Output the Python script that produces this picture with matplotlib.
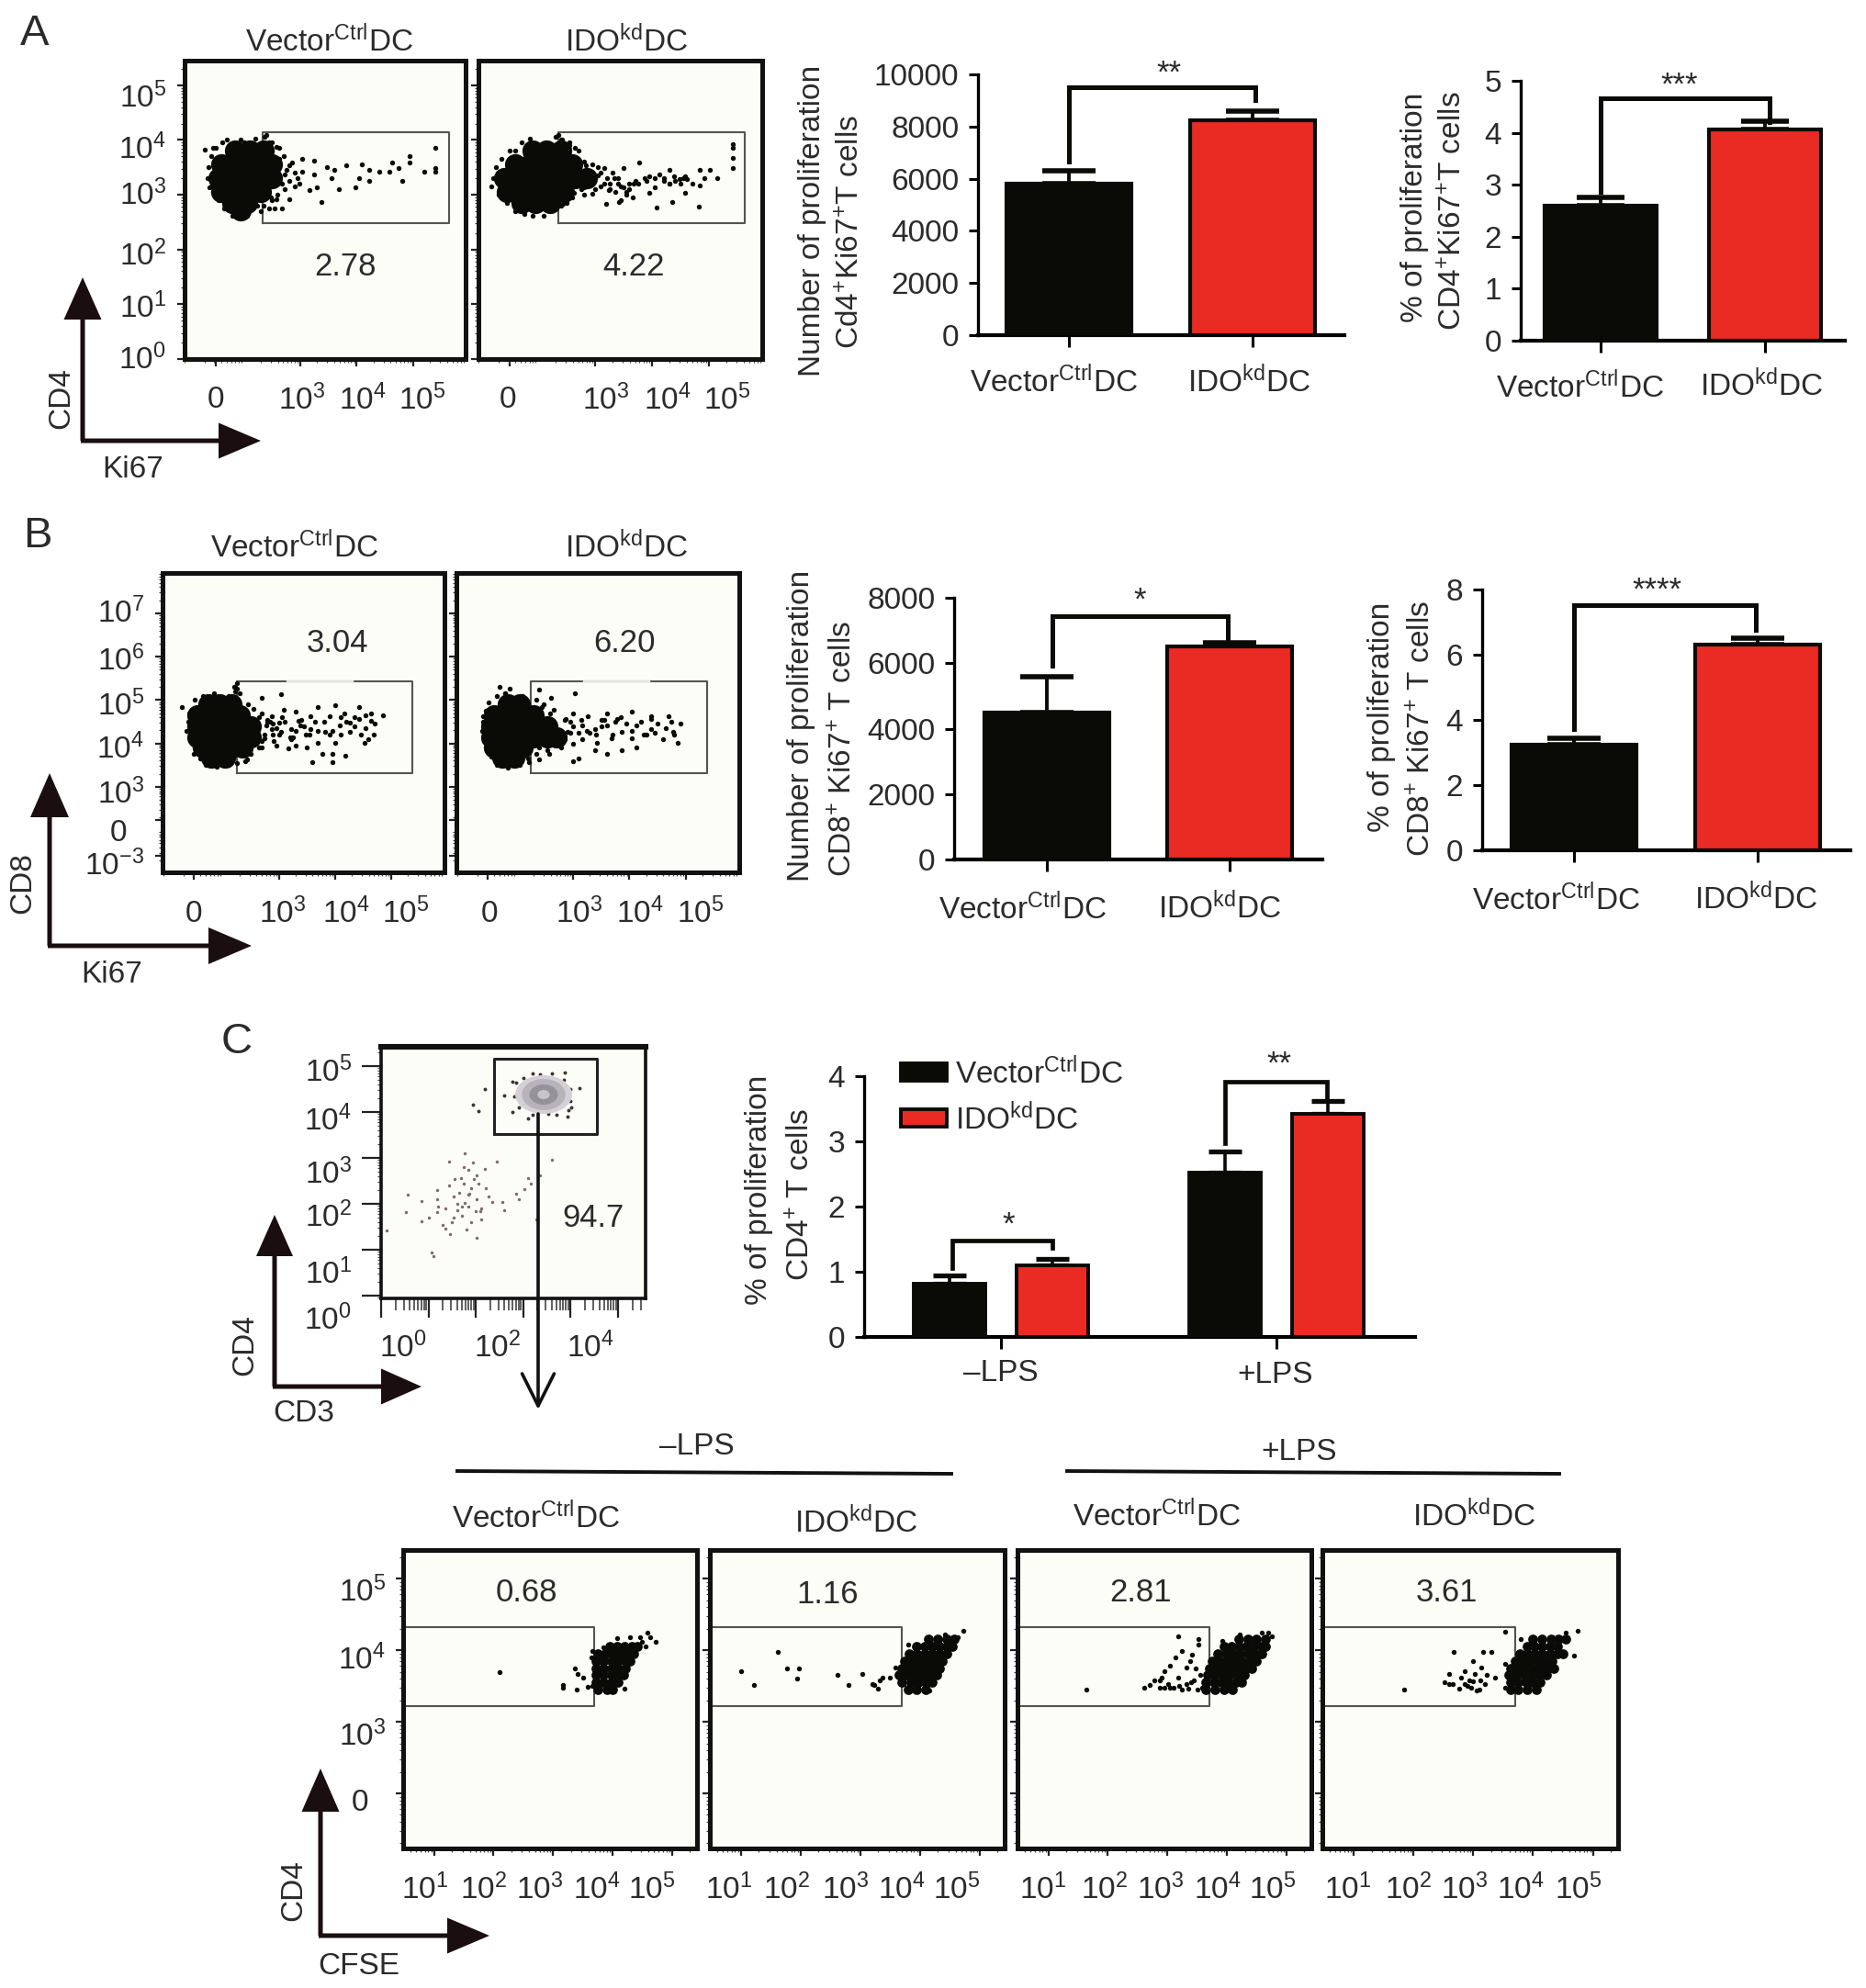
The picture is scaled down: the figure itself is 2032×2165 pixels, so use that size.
import numpy as np
import matplotlib
matplotlib.use('Agg')
import matplotlib.pyplot as plt
from matplotlib.patches import FancyArrow, Ellipse

plt.rcParams['font.family'] = ['Liberation Sans', 'DejaVu Sans']
plt.rcParams['mathtext.fontset'] = 'custom'
plt.rcParams['mathtext.rm'] = 'Liberation Sans'
plt.rcParams['mathtext.default'] = 'regular'
plt.rcParams['axes.unicode_minus'] = False

W, H = 2032, 2165
BLACK = '#0a0a06'
RED = '#e92b24'
TXT = '#2b2b2b'
PANEL = '#fdfdf7'
FS = 24

VEC = 'Vector$^{Ctrl}$DC'
IDO = 'IDO$^{kd}$DC'

# -------------------------------------------------
# bar values
# -------------------------------------------------
a_num_vals = [5800, 8250]
a_num_err = [500, 350]
a_pct_vals = [2.6, 4.07]
a_pct_err = [0.16, 0.15]
b_num_vals = [4500, 6500]
b_num_err = [1100, 120]
b_pct_vals = [3.25, 6.3]
b_pct_err = [0.2, 0.22]
c_ctrl_vals = [0.82, 2.52]
c_ctrl_err = [0.13, 0.33]
c_kd_vals = [1.1, 3.42]
c_kd_err = [0.1, 0.2]

# -------------------------------------------------
# flow plots: log10 channel values (u, v)
# core = the solid part of a cloud, dots = single events, rim = ragged cloud edge
# -------------------------------------------------
a1_core_u = [1.85, 2.1, 2.35, 1.6, 1.85, 2.1, 2.35, 2.5, 1.55, 1.8, 2.05, 2.3, 2.5, 1.6, 1.85, 2.1, 2.3, 1.8, 2.05, 1.95]
a1_core_v = [3.8, 3.8, 3.8, 3.55, 3.55, 3.55, 3.55, 3.55, 3.3, 3.3, 3.3, 3.3, 3.3, 3.05, 3.05, 3.05, 3.05, 2.85, 2.85, 2.72]
a1_dots_u = [5.40, 5.40, 5.40, 5.19, 4.93, 4.93, 4.75, 4.62, 4.58, 4.80, 4.40, 4.22, 4.22, 4.09, 4.04, 3.82,
             3.60, 3.56, 3.47, 3.25, 3.25, 3.03, 3.03, 2.98, 3.29, 3.16, 3.38, 3.69, 3.98, 2.81, 2.72, 2.67,
             2.81, 2.58, 2.67, 2.54, 2.41, 1.30, 1.39, 1.61, 2.36, 2.58, 1.88, 2.23, 2.63, 2.85, 2.45, 2.5,
             1.45, 1.75, 2.0, 2.48]
a1_dots_v = [3.85, 3.48, 3.42, 3.42, 3.71, 3.59, 3.48, 3.59, 3.42, 3.25, 3.42, 3.45, 3.25, 3.56, 3.31, 3.54,
             3.45, 3.31, 3.51, 3.62, 3.37, 3.65, 3.42, 3.20, 3.14, 3.08, 2.86, 3.11, 3.13, 3.54, 3.37, 3.20,
             2.92, 2.92, 2.75, 2.75, 3.08, 3.82, 3.14, 3.96, 4.05, 3.88, 2.69, 2.80, 3.65, 3.59, 3.95, 3.8,
             3.85, 3.9, 3.95, 2.95]
a1_rim_u = [1.38, 1.36, 1.42, 1.5, 1.7, 1.95, 2.2, 2.4, 2.5, 2.62, 2.7, 2.75, 2.8, 2.72, 2.6, 2.5, 2.35, 2.3,
            1.8, 1.95, 2.05, 1.65, 1.55, 1.45, 1.42, 2.9, 2.95, 2.9, 2.45]
a1_rim_v = [3.5, 3.3, 3.7, 3.85, 4.0, 4.0, 4.02, 4.1, 3.95, 3.85, 3.7, 3.45, 3.25, 3.1, 3.0, 2.9, 2.8, 2.7,
            2.62, 2.6, 2.62, 2.75, 2.9, 3.05, 3.15, 3.4, 3.3, 3.15, 2.75]

a2_core_u = [1.9, 2.15, 2.4, 1.6, 1.85, 2.1, 2.35, 2.6, 1.4, 1.65, 1.9, 2.15, 2.4, 2.65, 2.85, 1.45, 1.7, 1.95, 2.2, 2.45, 1.7, 1.95, 2.2]
a2_core_v = [3.8, 3.8, 3.8, 3.55, 3.55, 3.55, 3.55, 3.55, 3.3, 3.3, 3.3, 3.3, 3.3, 3.3, 3.3, 3.05, 3.05, 3.05, 3.05, 3.05, 2.85, 2.85, 2.85]
a2_dots_u = [5.41, 5.41, 5.41, 5.41, 5.14, 5.01, 4.92, 4.83, 4.83, 4.57, 4.57, 4.35, 4.08, 4.81, 4.30, 4.12,
             3.95, 3.77, 3.86, 3.68, 3.50, 3.50, 3.42, 3.19, 3.33, 3.15, 3.15, 2.97, 2.84, 2.80, 2.62, 2.44,
             2.35, 2.71, 4.04, 4.30, 3.95, 3.55, 3.24, 4.39, 4.48, 4.21, 4.61, 2.9, 3.05, 3.1, 3.25, 3.4,
             2.75, 2.85, 2.95, 3.6, 3.7, 2.3, 2.4, 2.55, 2.7, 1.85, 1.6]
a2_dots_v = [3.93, 3.85, 3.68, 3.48, 3.31, 3.45, 3.31, 3.45, 3.17, 3.34, 3.03, 2.86, 2.77, 2.79, 3.45, 3.37,
             3.34, 3.59, 3.31, 3.20, 3.48, 3.14, 2.86, 2.83, 3.31, 3.20, 3.48, 3.37, 3.54, 3.14, 3.03, 2.83,
             2.97, 3.31, 3.14, 3.20, 3.03, 3.00, 3.08, 3.34, 3.28, 3.31, 3.28, 3.25, 3.35, 3.15, 3.1, 3.2,
             3.1, 3.45, 3.02, 3.1, 3.25, 4.05, 4.0, 3.9, 3.8, 3.9, 3.8]
a2_rim_u = [1.2, 1.18, 1.25, 1.35, 1.5, 1.7, 1.85, 2.35, 2.42, 2.55, 2.65, 2.8, 2.95, 3.05, 3.1, 3.2, 3.3, 3.4,
            3.45, 3.35, 3.25, 3.0, 2.8, 2.6, 2.5, 2.4, 1.6, 1.75, 1.9, 2.1, 1.45, 1.3, 3.6, 3.75, 3.9, 4.05,
            4.2, 4.3, 4.4, 4.5, 4.55, 4.7, 3.55, 3.65, 3.45]
a2_rim_v = [3.3, 3.15, 3.5, 3.65, 3.8, 3.95, 4.02, 4.1, 4.0, 3.95, 3.85, 3.6, 3.55, 3.5, 3.4, 3.3, 3.4, 3.3,
            3.15, 3.05, 3.2, 3.1, 3.0, 2.95, 2.85, 2.8, 2.7, 2.65, 2.62, 2.62, 2.85, 3.0, 3.2, 3.2, 3.25, 3.3,
            3.25, 3.2, 3.25, 3.2, 3.3, 3.2, 3.05, 2.95, 2.9]

b1_core_u = [1.75, 1.95, 2.15, 1.55, 1.8, 2.05, 2.3, 1.55, 1.8, 2.05, 2.3, 2.5, 1.55, 1.8, 2.05, 2.3, 2.5, 1.65, 1.9, 2.15, 2.35, 1.8, 2.05]
b1_core_v = [4.9, 4.9, 4.9, 4.65, 4.65, 4.65, 4.65, 4.4, 4.4, 4.4, 4.4, 4.4, 4.15, 4.15, 4.15, 4.15, 4.15, 3.9, 3.9, 3.9, 3.9, 3.68, 3.68]
b1_dots_u = [1.27, 2.26, 2.22, 3.04, 2.70, 2.70, 2.87, 3.09, 3.30, 3.69, 4.00, 4.43, 4.65, 4.86, 4.65, 4.43,
             4.17, 4.08, 4.26, 4.47, 4.69, 4.52, 4.00, 3.69, 3.56, 3.39, 3.22, 3.04, 2.87, 2.74, 2.91, 3.17,
             2.70, 3.78, 3.95, 4.19, 3.59, 3.95, 2.44, 1.48, 3.22, 3.48, 3.82, 4.26, 3.91, 3.56, 3.35, 3.00,
             2.78, 2.61, 2.57, 2.48, 3.2, 3.4, 3.7, 3.95, 4.35, 4.55, 4.7, 3.05, 2.9, 2.8, 2.15, 1.95]
b1_dots_v = [4.84, 5.27, 5.20, 5.13, 5.06, 4.70, 4.63, 4.77, 4.74, 4.84, 4.88, 4.84, 4.70, 4.64, 4.52, 4.56,
             4.70, 4.41, 4.27, 4.20, 4.20, 4.02, 4.02, 4.02, 4.34, 4.41, 4.34, 4.27, 4.34, 4.13, 4.06, 3.88,
             3.91, 3.76, 3.77, 3.71, 3.56, 3.56, 3.63, 3.76, 4.09, 4.20, 4.27, 4.49, 4.63, 4.63, 4.52, 4.49,
             4.41, 4.27, 3.99, 3.84, 4.15, 4.55, 4.3, 4.3, 4.4, 4.35, 4.45, 4.6, 4.2, 4.55, 5.05, 5.08]
b1_rim_u = [1.4, 1.38, 1.36, 1.42, 1.5, 1.5, 1.65, 1.85, 2.1, 2.2, 2.25, 2.3, 2.45, 2.55, 2.65, 2.8, 2.9, 2.75,
            2.7, 2.65, 2.5, 2.4, 1.6, 1.7, 1.9, 2.1, 2.25, 3.0, 3.1, 3.25, 3.3, 3.45, 3.55, 3.65, 3.8, 3.9,
            4.1, 4.2, 4.35, 4.55, 4.6, 4.1, 3.5, 3.3, 2.95, 2.85, 2.95]
b1_rim_v = [4.7, 4.5, 4.3, 4.1, 3.9, 5.0, 5.1, 5.15, 5.1, 5.3, 5.4, 5.15, 4.9, 4.8, 4.6, 4.5, 4.45, 4.2,
            4.05, 3.9, 3.75, 3.6, 3.65, 3.5, 3.47, 3.5, 3.55, 4.2, 4.5, 4.15, 4.3, 4.4, 4.2, 4.5, 4.5, 4.2,
            4.2, 4.5, 4.6, 4.65, 4.1, 4.6, 3.9, 3.95, 3.95, 4.5, 4.35]

b2_core_u = [1.85, 2.05, 1.6, 1.85, 2.1, 2.3, 1.55, 1.8, 2.05, 2.3, 2.55, 1.55, 1.8, 2.05, 2.3, 2.55, 2.7, 1.6, 1.85, 2.1, 1.75, 1.95]
b2_core_v = [4.9, 4.9, 4.65, 4.65, 4.65, 4.65, 4.4, 4.4, 4.4, 4.4, 4.4, 4.15, 4.15, 4.15, 4.15, 4.15, 4.15, 3.9, 3.9, 3.9, 3.68, 3.68]
b2_dots_u = [1.40, 1.87, 2.39, 2.61, 3.04, 2.48, 2.65, 3.00, 3.26, 3.61, 4.04, 4.39, 4.69, 4.91, 4.78, 4.60,
             4.86, 4.39, 4.13, 3.87, 3.61, 3.39, 3.17, 3.00, 2.78, 2.57, 2.39, 3.00, 3.09, 3.39, 3.61, 3.87,
             4.13, 4.04, 3.69, 3.43, 3.17, 2.91, 2.87, 4.39, 3.78, 2.22, 1.79, 2.8, 2.95, 3.3, 3.5, 3.75, 4.25]
b2_dots_v = [4.63, 5.27, 5.24, 5.06, 5.16, 4.91, 4.77, 4.70, 4.63, 4.70, 4.74, 4.63, 4.63, 4.45, 4.27, 4.09,
             4.02, 4.34, 4.41, 4.27, 4.41, 4.34, 4.09, 3.99, 3.91, 3.77, 3.63, 3.59, 3.66, 3.84, 3.77, 3.84,
             3.91, 4.13, 4.13, 4.02, 4.41, 4.27, 4.56, 4.56, 4.56, 3.56, 5.16, 4.15, 4.5, 4.25, 4.55, 4.5, 4.2]
b2_rim_u = [1.45, 1.4, 1.38, 1.42, 1.5, 1.55, 1.65, 1.85, 2.05, 2.2, 2.35, 2.4, 2.55, 2.7, 2.85, 2.95, 3.0, 2.85,
            2.6, 2.45, 2.35, 2.1, 1.8, 1.7, 1.65, 1.5, 3.1, 3.15, 3.25, 3.4, 3.5, 3.55, 3.7, 3.85, 3.95, 4.05,
            4.2, 4.3, 4.45, 4.5, 4.65, 4.8, 4.75]
b2_rim_v = [4.75, 4.5, 4.3, 4.05, 3.85, 3.7, 3.5, 3.45, 3.5, 3.65, 3.75, 3.9, 3.85, 4.0, 4.1, 4.25, 4.4, 4.55,
            4.7, 4.85, 5.0, 5.1, 5.15, 5.3, 5.1, 4.95, 4.25, 4.55, 4.3, 4.2, 4.4, 4.55, 4.2, 4.6, 4.45, 4.3,
            4.5, 4.2, 4.25, 4.45, 4.35, 4.2, 4.5]

ca_core_u = [3.75, 3.9, 4.0, 3.72, 3.85, 3.98, 4.1, 3.72, 3.85, 3.98, 4.1, 4.18, 3.72, 3.85, 3.98, 4.1, 4.22,
             3.72, 3.85, 3.98, 4.1, 4.22, 4.3, 3.75, 3.88, 4.0, 4.12, 4.25, 4.35, 3.95, 4.08, 4.2, 4.33, 4.42]
ca_core_v = [3.45, 3.45, 3.45, 3.55, 3.55, 3.55, 3.55, 3.65, 3.65, 3.65, 3.65, 3.65, 3.75, 3.75, 3.75, 3.75, 3.75,
             3.85, 3.85, 3.85, 3.85, 3.85, 3.85, 3.95, 3.95, 3.95, 3.95, 3.95, 3.95, 4.05, 4.05, 4.05, 4.05, 4.05]
ca_dots_u = [2.10, 3.37, 3.42, 3.50, 3.16, 3.16, 3.40, 3.59, 3.66, 4.20, 3.94, 4.59, 4.72, 4.46, 4.29, 4.07,
             4.63, 3.85, 4.37, 3.65, 3.66, 4.5, 4.55]
ca_dots_v = [3.69, 3.74, 3.67, 3.62, 3.48, 3.51, 3.45, 3.49, 3.99, 3.46, 3.45, 4.24, 4.12, 4.18, 4.18, 4.17,
             4.18, 4.04, 4.04, 3.9, 3.5, 4.12, 4.05]

cb_core_u = [3.8, 3.95, 4.1, 3.7, 3.85, 3.98, 4.1, 4.2, 3.65, 3.78, 3.9, 4.02, 4.15, 4.28, 3.7, 3.82, 3.95, 4.08, 4.2, 4.32,
             3.75, 3.88, 4.0, 4.12, 4.25, 4.38, 3.82, 3.95, 4.08, 4.2, 4.32, 4.45, 3.95, 4.08, 4.2, 4.32, 4.45, 4.55,
             4.15, 4.3, 4.45, 4.58]
cb_core_v = [3.45, 3.45, 3.45, 3.55, 3.55, 3.55, 3.55, 3.55, 3.65, 3.65, 3.65, 3.65, 3.65, 3.65, 3.75, 3.75, 3.75, 3.75, 3.75, 3.75,
             3.85, 3.85, 3.85, 3.85, 3.85, 3.85, 3.95, 3.95, 3.95, 3.95, 3.95, 3.95, 4.05, 4.05, 4.05, 4.05, 4.05, 4.05,
             4.15, 4.15, 4.15, 4.15]
cb_dots_u = [1.62, 1.77, 1.97, 1.94, 1.00, 1.22, 2.62, 2.81, 3.03, 3.20, 3.29, 3.37, 3.50, 3.59, 3.24, 3.33,
             4.72, 4.63, 4.42, 4.16, 3.81]
cb_dots_v = [3.97, 3.75, 3.74, 3.61, 3.71, 3.51, 3.66, 3.51, 3.67, 3.53, 3.46, 3.62, 3.62, 3.76, 3.51, 3.58,
             4.27, 4.18, 4.22, 3.44, 4.08]

cc_core_u = [3.65, 3.8, 3.95, 4.1, 3.65, 3.78, 3.9, 4.02, 4.15, 4.25, 3.68, 3.8, 3.92, 4.05, 4.18, 4.3,
             3.7, 3.82, 3.95, 4.08, 4.2, 4.32, 4.42, 3.75, 3.88, 4.0, 4.12, 4.25, 4.38, 4.5,
             3.85, 3.98, 4.1, 4.22, 4.35, 4.48, 4.58, 3.95, 4.08, 4.2, 4.32, 4.45, 4.58, 4.65, 4.2, 4.35, 4.5, 4.65]
cc_core_v = [3.45, 3.45, 3.45, 3.45, 3.55, 3.55, 3.55, 3.55, 3.55, 3.55, 3.65, 3.65, 3.65, 3.65, 3.65, 3.65,
             3.75, 3.75, 3.75, 3.75, 3.75, 3.75, 3.75, 3.85, 3.85, 3.85, 3.85, 3.85, 3.85, 3.85,
             3.95, 3.95, 3.95, 3.95, 3.95, 3.95, 3.95, 4.05, 4.05, 4.05, 4.05, 4.05, 4.05, 4.05, 4.15, 4.15, 4.15, 4.15]
cc_dots_u = [1.64, 3.18, 3.52, 3.52, 3.25, 3.13, 3.42, 3.38, 3.32, 3.05, 2.95, 2.91, 2.78, 2.61, 2.71, 2.88,
             3.01, 3.11, 3.32, 3.35, 3.48, 3.55, 3.45, 2.88, 3.18, 4.69, 4.76, 4.59, 4.22, 3.92, 3.58,
             2.95, 3.05, 3.2, 3.25, 3.4, 3.5]
cc_dots_v = [3.45, 4.20, 4.15, 4.08, 3.99, 3.90, 3.94, 3.85, 3.76, 3.78, 3.71, 3.62, 3.58, 3.48, 3.51, 3.48,
             3.53, 3.48, 3.53, 3.46, 3.74, 3.65, 3.58, 3.58, 3.62, 4.24, 4.20, 4.24, 4.22, 4.13, 3.48,
             3.48, 3.47, 3.5, 3.45, 3.55, 3.45]

cd_core_u = [3.62, 3.75, 3.9, 4.05, 3.62, 3.75, 3.88, 4.0, 4.12, 3.6, 3.72, 3.85, 3.98, 4.1, 4.22,
             3.62, 3.75, 3.88, 4.0, 4.12, 4.25, 4.35, 3.7, 3.82, 3.95, 4.08, 4.2, 4.32,
             3.78, 3.9, 4.02, 4.15, 4.28, 4.4, 4.5, 3.9, 4.02, 4.15, 4.28, 4.4, 4.0, 4.15, 4.3, 4.42, 4.55]
cd_core_v = [3.45, 3.45, 3.45, 3.45, 3.55, 3.55, 3.55, 3.55, 3.55, 3.65, 3.65, 3.65, 3.65, 3.65, 3.65,
             3.75, 3.75, 3.75, 3.75, 3.75, 3.75, 3.75, 3.85, 3.85, 3.85, 3.85, 3.85, 3.85,
             3.95, 3.95, 3.95, 3.95, 3.95, 3.95, 3.95, 4.05, 4.05, 4.05, 4.05, 4.05, 4.15, 4.15, 4.15, 4.15, 4.15]
cd_dots_u = [1.85, 3.53, 2.68, 3.16, 3.30, 3.00, 3.13, 3.03, 3.23, 2.86, 2.59, 2.52, 2.66, 2.76, 2.93, 3.06,
             3.19, 3.36, 3.53, 3.53, 4.74, 4.69, 3.80, 4.54, 2.86, 2.96, 2.59, 2.8, 2.9, 3.0, 3.1, 3.12]
cd_dots_v = [3.45, 4.26, 3.97, 3.98, 3.97, 3.85, 3.76, 3.67, 3.65, 3.71, 3.67, 3.55, 3.53, 3.46, 3.58, 3.44,
             3.53, 3.62, 3.81, 3.48, 4.27, 3.93, 4.15, 4.24, 3.53, 3.48, 3.53, 3.62, 3.5, 3.57, 3.45, 3.58]

# CD3/CD4 gating plot
c0_low_u = [1.44, 1.77, 1.94, 2.44, 2.19, 2.02, 1.69, 1.44, 1.19, 0.56, 0.86, 1.19, 1.53, 1.86, 2.02, 1.77,
            2.11, 1.61, 1.19, 0.53, 0.86, 1.53, 2.11, 2.60, 2.85, 3.10, 3.35, 3.60, 2.27, 2.02, 1.11, 0.12,
            1.36, 3.02, 3.27, 1.6, 1.7, 1.85, 2.0, 2.1, 1.65, 1.75, 1.85, 1.95, 1.35, 1.5, 1.3, 1.0, 1.45,
            1.8, 1.9, 2.2, 2.35, 2.55, 2.9, 3.15, 1.75, 1.2, 1.55, 1.9, 2.05, 1.85, 1.7, 1.06]
c0_low_v = [2.93, 3.10, 2.90, 2.93, 2.77, 2.63, 2.57, 2.40, 2.30, 2.20, 2.07, 2.10, 2.17, 2.23, 2.10, 2.03,
            1.90, 1.87, 1.83, 1.83, 1.63, 1.70, 1.67, 1.87, 2.23, 2.57, 2.63, 2.97, 2.17, 1.27, 0.87, 1.43,
            1.47, 2.33, 1.67, 2.0, 1.95, 1.95, 1.85, 1.85, 2.25, 2.45, 2.75, 2.55, 1.9, 1.6, 1.55, 1.7, 1.35,
            1.45, 1.6, 2.35, 2.05, 2.05, 2.1, 2.45, 2.8, 1.95, 2.55, 2.35, 2.45, 2.2, 1.75, 0.95]
c0_high_u = [2.19, 1.94, 2.06, 2.60, 2.77, 3.10, 3.93, 4.18, 3.88, 3.35, 2.77, 4.01, 3.52, 3.10,
             2.85, 3.0, 3.2, 3.6, 3.85, 4.0, 4.0, 3.95, 3.7, 3.2, 2.9, 2.8]
c0_high_v = [4.50, 4.17, 4.03, 4.37, 4.00, 3.87, 3.90, 4.53, 4.87, 4.83, 4.67, 4.10, 3.97, 4.60,
             4.65, 4.75, 4.85, 4.85, 4.7, 4.5, 4.25, 4.05, 3.95, 3.95, 4.1, 4.35]
c0_peak_u = 3.43
c0_peak_v = 4.38


def px_axes(l, t, r, b):
    return fig.add_axes([l / W, 1 - b / H, (r - l) / W, (b - t) / H])


def decade_minor(decades):
    return [d + np.log10(k) for d in decades for k in range(2, 10)]


def flow(box, xlim, ylim, xt, yt, xlab_pos, xlabs, ylab_pos, ylabs, gate=None, core=None, dots=None,
         xpad=45, ypad=20, major=6, core_size=280, dot_size=15):
    ax = px_axes(*box)
    ax.set_facecolor(PANEL)
    ax.set_xlim(*xlim)
    ax.set_ylim(*ylim)
    for s in ax.spines.values():
        s.set_linewidth(3.6)
        s.set_color('#111111')
    ax.set_xticks(xt)
    ax.set_yticks(yt)
    ax.set_xticks([v for v in decade_minor(range(-1, 7)) if xlim[0] < v < xlim[1]], minor=True)
    ax.set_yticks([v for v in decade_minor(range(-1, 9)) if ylim[0] < v < ylim[1]], minor=True)
    ax.tick_params(which='major', length=major, width=1.6, color='#222222', labelbottom=False, labelleft=False)
    ax.tick_params(which='minor', length=3, width=0.9, color='#444444')
    if gate is not None:
        gx0, gx1, gy0, gy1 = gate
        ax.plot([gx0, gx1, gx1, gx0, gx0], [gy0, gy0, gy1, gy1, gy0], color='#555550', lw=1.5, zorder=2)
    if core is not None:
        ax.scatter(core[0], core[1], s=core_size, color=BLACK, linewidths=0, zorder=3)
    if dots is not None:
        ax.scatter(dots[0], dots[1], s=dot_size, color=BLACK, linewidths=0, marker='o', zorder=3)
    for p, lab in zip(xlab_pos, xlabs):
        ax.annotate(lab, xy=(p, 0), xycoords=ax.get_xaxis_transform(), xytext=(0, -xpad),
                    textcoords='offset pixels', ha='center', va='center', fontsize=FS, color=TXT)
    for p, lab in zip(ylab_pos, ylabs):
        extra = 19 if lab == '0' else 0
        ax.annotate(lab, xy=(0, p), xycoords=ax.get_yaxis_transform(), xytext=(-ypad - extra, -3),
                    textcoords='offset pixels', ha='right', va='center', fontsize=FS, color=TXT)
    return ax


def bars(box, xlim, ylim, yt, vals, errs, bracket, cap=21):
    ax = px_axes(*box)
    ax.set_xlim(*xlim)
    ax.set_ylim(*ylim)
    ax.patch.set_alpha(0)
    ax.bar([0, 1], vals, width=0.68, color=[BLACK, RED], edgecolor=BLACK, linewidth=3.0, zorder=3)
    ax.errorbar([0, 1], vals, yerr=[[0, 0], errs], fmt='none', ecolor=BLACK, elinewidth=2.8,
                capsize=cap, capthick=4.0, zorder=2)
    ax.plot(bracket[0], bracket[1], color=BLACK, lw=3.6, clip_on=False, solid_joinstyle='miter')
    finish_bar_axes(ax, yt)
    ax.set_xticks([0, 1])
    return ax


def finish_bar_axes(ax, yt):
    for side in ['top', 'right']:
        ax.spines[side].set_visible(False)
    ax.spines['left'].set_linewidth(2.4)
    ax.spines['bottom'].set_linewidth(3.0)
    ax.set_yticks(yt)
    ax.tick_params(axis='y', length=7, width=2.2, pad=8, labelsize=FS, labelcolor=TXT)
    ax.tick_params(axis='x', length=9, width=2.2, labelbottom=False)


fig = plt.figure(figsize=(W / 100, H / 100), dpi=100)

# overlay in picture pixels for labels and the axis arrows
ov = fig.add_axes([0, 0, 1, 1])
ov.set_xlim(0, W)
ov.set_ylim(H, 0)
ov.axis('off')
ov.set_zorder(10)


def label(x, y, s, size=FS, rot=0, **kw):
    if s in (VEC, IDO):
        y += 4
    ov.text(x, y, s, fontsize=size, rotation=rot, ha='center', va='center', color=TXT, **kw)


def arrows(x0, y0, ytip, xtip, vhead, hhead):
    ov.add_patch(FancyArrow(x0, y0, 0, ytip - y0, width=5, head_width=vhead[0], head_length=vhead[1],
                            length_includes_head=True, color='#1a0e10', lw=0))
    ov.add_patch(FancyArrow(x0 - 2, y0, xtip - x0 + 2, 0, width=5, head_width=hhead[0], head_length=hhead[1],
                            length_includes_head=True, color='#1a0e10', lw=0))


# -------------------------------------------------
# A
# -------------------------------------------------
a_xlim = (0.95, 5.93)
a_ylim = (0.0, 5.45)
a_ylab_pos = [4.81, 3.88, 3.03, 1.93, 0.97, 0.03]
a_ylabs = ['$10^{5}$', '$10^{4}$', '$10^{3}$', '$10^{2}$', '$10^{1}$', '$10^{0}$']
a_xlabs = ['0', '$10^{3}$', '$10^{4}$', '$10^{5}$']
flow((201, 66, 507, 391), a_xlim, a_ylim, [1.5, 3, 4, 5], [0, 1, 2, 3, 4, 5],
     [1.5, 3.03, 4.1, 5.16], a_xlabs, a_ylab_pos, a_ylabs, gate=(2.33, 5.63, 2.48, 4.14),
     core=(a1_core_u, a1_core_v), dots=(a1_dots_u + a1_rim_u, a1_dots_v + a1_rim_v))
flow((521, 66, 830, 391), a_xlim, a_ylim, [1.5, 3, 4, 5], [0, 1, 2, 3, 4, 5],
     [1.47, 3.19, 4.26, 5.32], a_xlabs, [], [], gate=(2.35, 5.62, 2.48, 4.14),
     core=(a2_core_u, a2_core_v), dots=(a2_dots_u + a2_rim_u, a2_dots_v + a2_rim_v))

bars((1065, 81, 1464, 365), (-0.495, 1.5), (0, 10000), [0, 2000, 4000, 6000, 8000, 10000],
     a_num_vals, a_num_err, ([0, 0, 1.015, 1.015], [6650, 9500, 9500, 9000]))
bars((1656, 88, 2009, 371), (-0.486, 1.486), (0, 5), [0, 1, 2, 3, 4, 5],
     a_pct_vals, a_pct_err, ([0, 0, 1.03, 1.03], [2.87, 4.67, 4.67, 4.2]), cap=19)

label(38, 37, 'A', size=34)
label(358, 41, VEC)
label(682, 41, IDO)
label(376, 291, '2.78', size=25)
label(690, 291, '4.22', size=25)
label(1273, 80, '**', size=25)
label(1829, 93, '***', size=25)
arrows(90, 480, 302, 284, (41, 46), (39, 46))
label(67, 434, 'CD4', rot=90)
label(145, 512, 'Ki67')
label(884, 240, 'Number of proliferation', rot=90)
label(927, 253, 'Cd4$^{+}$Ki67$^{+}$T cells', rot=90)
label(1147, 412, VEC)
label(1360, 412, IDO)
label(1540, 226, '% of proliferation', rot=90)
label(1583, 230, 'CD4$^{+}$Ki67$^{+}$T cells', rot=90)
label(1720, 418, VEC)
label(1918, 416, IDO)

# -------------------------------------------------
# B
# -------------------------------------------------
b_xlim = (0.93, 5.95)
b_ylim = (1.03, 7.93)
b_ylabs = ['$10^{7}$', '$10^{6}$', '$10^{5}$', '$10^{4}$', '$10^{3}$', '0', '$10^{-3}$']
b_yt = [7, 6, 5, 4, 3, 2.24, 1.41]
b_ax1 = flow((177, 624, 484, 950), b_xlim, b_ylim, [1.48, 3, 4, 5], b_yt,
             [1.48, 3.07, 4.2, 5.26], a_xlabs, [7.06, 5.96, 4.92, 3.93, 2.89, 1.99, 1.25], b_ylabs,
             gate=(2.25, 5.37, 3.32, 5.43), core=(b1_core_u, b1_core_v),
             dots=(b1_dots_u + b1_rim_u, b1_dots_v + b1_rim_v))
b_ax2 = flow((497, 624, 805, 950), b_xlim, b_ylim, [1.48, 3, 4, 5], b_yt,
             [1.52, 3.11, 4.19, 5.26], a_xlabs, [], [],
             gate=(2.25, 5.38, 3.32, 5.43), core=(b2_core_u, b2_core_v),
             dots=(b2_dots_u + b2_rim_u, b2_dots_v + b2_rim_v))
# faded stretch along the top of both gates
b_ax1.plot([3.16, 4.32], [5.43, 5.43], color='#e4e4de', lw=1.7, zorder=2)
b_ax2.plot([3.2, 4.35], [5.43, 5.43], color='#e4e4de', lw=1.7, zorder=2)

bars((1039, 651, 1440, 936), (-0.508, 1.508), (0, 8000), [0, 2000, 4000, 6000, 8000],
     b_num_vals, b_num_err, ([0.03, 0.03, 0.99, 0.99], [5925, 7440, 7440, 6760]))
bars((1614, 642, 2015, 926), (-0.5, 1.505), (0, 8), [0, 2, 4, 6, 8],
     b_pct_vals, b_pct_err, ([0, 0, 0.99, 0.99], [3.73, 7.53, 7.53, 6.75]))

label(41, 584, 'B', size=34)
label(320, 592, VEC)
label(682, 592, IDO)
label(367, 701, '3.04', size=25)
label(680, 701, '6.20', size=25)
label(1241, 654, '*', size=25)
label(1804, 643, '****', size=25)
arrows(54, 1030, 842, 274, (42, 48), (40, 47))
label(25, 962, 'CD8', rot=90)
label(122, 1061, 'Ki67')
label(872, 790, 'Number of proliferation', rot=90)
label(919, 815, 'CD8$^{+}$ Ki67$^{+}$ T cells', rot=90)
label(1113, 986, VEC)
label(1328, 985, IDO)
label(1504, 781, '% of proliferation', rot=90)
label(1549, 793, 'CD8$^{+}$ Ki67$^{+}$ T cells', rot=90)
label(1694, 976, VEC)
label(1912, 975, IDO)

# -------------------------------------------------
# C gating plot and grouped bars
# -------------------------------------------------
ax0 = flow((415, 1140, 703, 1414), (0, 5.58), (-0.06, 5.42), [0, 1, 2, 3, 4, 5], [0, 1, 2, 3, 4, 5],
           [0.47, 2.46, 4.42], ['$10^{0}$', '$10^{2}$', '$10^{4}$'],
           [4.92, 3.86, 2.7, 1.76, 0.52, -0.48], a_ylabs, xpad=54, ypad=32, major=15)
ax0.tick_params(axis='x', which='minor', length=9, width=1.2)
for side in ['left', 'right', 'bottom']:
    ax0.spines[side].set_linewidth(2.6)
ax0.spines['top'].set_linewidth(4.4)
ax0.scatter(c0_low_u, c0_low_v, s=6, color='#7d6a68', linewidths=0, zorder=3)
ax0.scatter(c0_high_u, c0_high_v, s=8, color='#3a3436', linewidths=0, zorder=3)
for ru, rv, col in zip([0.6, 0.46, 0.3, 0.13], [0.42, 0.34, 0.22, 0.1],
                       ['#d4d0d6', '#b7b3ba', '#96929a', '#c8c4ca']):
    ax0.add_patch(Ellipse((c0_peak_u, c0_peak_v), 2 * ru, 2 * rv, color=col, lw=0, zorder=4))
ax0.plot([2.38, 4.55, 4.55, 2.38, 2.38], [3.52, 3.52, 5.16, 5.16, 3.52], color='#222222', lw=2.2, zorder=5)

ax_c = px_axes(941, 1172, 1541, 1456)
ax_c.set_xlim(-0.497, 1.503)
ax_c.set_ylim(0, 4)
ax_c.patch.set_alpha(0)
group = np.arange(2)
h1 = ax_c.bar(group - 0.186, c_ctrl_vals, width=0.26, color=BLACK, edgecolor=BLACK, linewidth=2.8, zorder=3,
              label=VEC)
h2 = ax_c.bar(group + 0.186, c_kd_vals, width=0.26, color=RED, edgecolor=BLACK, linewidth=2.8, zorder=3,
              label=IDO)
ax_c.errorbar(group - 0.186, c_ctrl_vals, yerr=[[0, 0], c_ctrl_err], fmt='none', ecolor=BLACK, elinewidth=2.6,
              capsize=13, capthick=3.8, zorder=2)
ax_c.errorbar(group + 0.186, c_kd_vals, yerr=[[0, 0], c_kd_err], fmt='none', ecolor=BLACK, elinewidth=2.6,
              capsize=13, capthick=3.8, zorder=2)
ax_c.plot([-0.177, -0.177, 0.187, 0.187], [1.05, 1.48, 1.48, 1.36], color=BLACK, lw=3.4, solid_joinstyle='miter')
ax_c.plot([0.813, 0.813, 1.183, 1.183], [2.97, 3.92, 3.92, 3.67], color=BLACK, lw=3.4, solid_joinstyle='miter')
finish_bar_axes(ax_c, [0, 1, 2, 3, 4])
ax_c.set_xticks([0, 1])
ax_c.legend(handles=[h1, h2], frameon=False, fontsize=FS, labelcolor=TXT, loc='upper left',
            bbox_to_anchor=(981 / W, 1 - 1151 / H), bbox_transform=fig.transFigure, borderpad=0, borderaxespad=0,
            handlelength=1.5, handleheight=0.5, handletextpad=0.28, labelspacing=0.42)

label(258, 1135, 'C', size=34)
label(646, 1327, '94.7', size=25)
arrows(299, 1510, 1323, 459, (40, 45), (39, 44))
label(267, 1465, 'CD4', rot=90)
label(331, 1540, 'CD3')
ov.annotate('', xy=(586, 1535), xytext=(586, 1213),
            arrowprops=dict(arrowstyle='->,head_width=0.45,head_length=0.9', lw=2.6, color='#111111',
                            mutation_scale=28, shrinkA=0, shrinkB=0))
label(827, 1296, '% of proliferation', rot=90)
label(873, 1301, 'CD4$^{+}$ T cells', rot=90)
label(1098, 1334, '*', size=25)
label(1393, 1159, '**', size=25)
label(1090, 1495, '–LPS')
label(1389, 1498, '+LPS')

# -------------------------------------------------
# C CFSE plots
# -------------------------------------------------
c_xlim = (0.48, 5.42)
c_ylim = (1.23, 5.4)
c_xlabs = ['$10^{1}$', '$10^{2}$', '$10^{3}$', '$10^{4}$', '$10^{5}$']
c_ylabs = ['$10^{5}$', '$10^{4}$', '$10^{3}$', '0']
c_yt = [5, 4, 3, 2]
flow((439, 1688, 759, 2013), c_xlim, c_ylim, [1, 2, 3, 4, 5], c_yt,
     [0.85, 1.83, 2.78, 3.74, 4.66], c_xlabs, [4.85, 3.9, 2.83, 1.91], c_ylabs,
     gate=(0.48, 3.69, 3.22, 4.32), core=(ca_core_u, ca_core_v), dots=(ca_dots_u, ca_dots_v), ypad=19, core_size=60)
flow((773, 1688, 1094, 2013), c_xlim, c_ylim, [1, 2, 3, 4, 5], c_yt,
     [0.8, 1.77, 2.75, 3.69, 4.62], c_xlabs, [], [],
     gate=(0.48, 3.69, 3.22, 4.32), core=(cb_core_u, cb_core_v), dots=(cb_dots_u, cb_dots_v), core_size=60)
flow((1108, 1688, 1428, 2013), c_xlim, c_ylim, [1, 2, 3, 4, 5], c_yt,
     [0.91, 1.94, 2.88, 3.84, 4.76], c_xlabs, [], [],
     gate=(0.48, 3.7, 3.22, 4.32), core=(cc_core_u, cc_core_v), dots=(cc_dots_u, cc_dots_v), core_size=60)
flow((1440, 1688, 1762, 2013), c_xlim, c_ylim, [1, 2, 3, 4, 5], c_yt,
     [0.91, 1.92, 2.85, 3.79, 4.75], c_xlabs, [], [],
     gate=(0.48, 3.7, 3.22, 4.32), core=(cd_core_u, cd_core_v), dots=(cd_dots_u, cd_dots_v), core_size=60)

ov.plot([498, 1036], [1602, 1605], color='#111111', lw=2.8)
ov.plot([1162, 1698], [1602, 1605], color='#111111', lw=2.8)
label(759, 1576, '–LPS')
label(1415, 1582, '+LPS')
label(583, 1649, VEC)
label(932, 1654, IDO)
label(1259, 1647, VEC)
label(1605, 1647, IDO)
label(573, 1735, '0.68', size=25)
label(901, 1737, '1.16', size=25)
label(1242, 1735, '2.81', size=25)
label(1575, 1734, '3.61', size=25)
arrows(349, 2108, 1926, 533, (41, 47), (39, 46))
label(320, 2059, 'CD4', rot=90)
label(391, 2142, 'CFSE')

fig.savefig('out.png', dpi=100)
